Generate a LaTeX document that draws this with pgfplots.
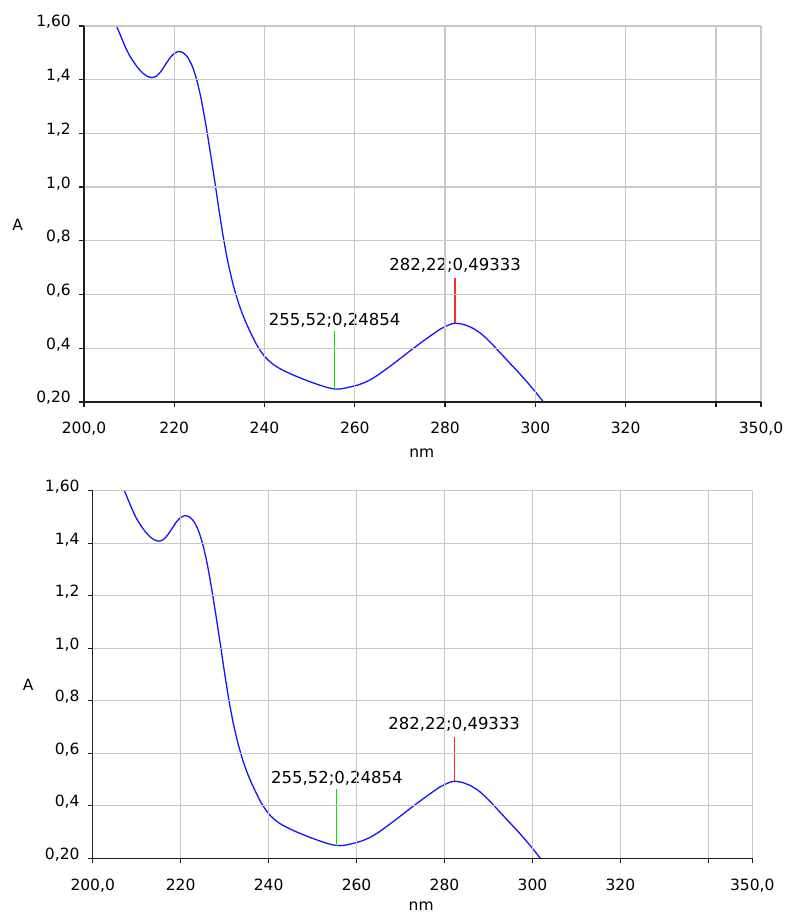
\documentclass[border=0pt]{standalone}
\usepackage{pgfplots}
\usepackage{pgfplotstable}
\pgfplotsset{compat=1.18}
\usepackage{fontspec}
\setmainfont{DejaVu Sans}

\pgfplotstableread{
x y
207.2 1.600
208.0 1.568
209.0 1.528
210.0 1.493
211.0 1.466
212.0 1.443
213.0 1.425
214.0 1.413
215.0 1.408
216.0 1.413
217.0 1.430
218.0 1.455
219.0 1.480
220.0 1.498
221.0 1.505
222.0 1.500
223.0 1.483
224.0 1.450
225.0 1.398
226.0 1.325
227.0 1.232
228.0 1.128
229.0 1.018
230.0 0.905
231.0 0.800
232.0 0.712
233.0 0.640
234.0 0.581
235.0 0.532
236.0 0.491
237.0 0.455
238.0 0.421
239.0 0.393
240.0 0.370
241.0 0.353
242.0 0.339
243.0 0.328
244.0 0.319
246.0 0.303
248.0 0.289
250.0 0.276
252.0 0.264
254.0 0.2535
255.52 0.24854
257.0 0.249
259.0 0.256
261.0 0.265
263.0 0.279
265.0 0.299
267.0 0.323
269.0 0.348
271.0 0.374
273.0 0.400
275.0 0.425
277.0 0.449
279.0 0.472
281.0 0.488
282.22 0.49333
284.0 0.489
286.0 0.476
288.0 0.454
290.0 0.423
292.0 0.387
294.0 0.351
296.0 0.315
298.0 0.278
300.0 0.238
301.0 0.217
301.8 0.200
}\spectrum

\pgfplotstableread{
x y
255.52 0.24854
255.52 0.463
}\greenmark

\pgfplotstableread{
x y
282.22 0.49333
282.22 0.663
}\redmark

\definecolor{gridgray}{RGB}{200,200,200}
\definecolor{axisgray}{RGB}{30,30,30}
\definecolor{specblue}{RGB}{20,20,255}
\definecolor{markgreen}{RGB}{0,230,0}
\definecolor{markred}{RGB}{255,40,40}

\pgfplotsset{
  specaxis/.style={
    scale only axis,
    anchor=south west,
    xmin=200, xmax=350,
    ymin=0.2, ymax=1.6,
    axis lines*=left,
    axis on top,
    axis line style={-, draw=axisgray, line width=1.5bp},
    xtick={200,220,240,260,280,300,320,340,350},
    xticklabels={{200,0},220,240,260,280,300,320,,{350,0}},
    ytick={0.2,0.4,0.6,0.8,1.0,1.2,1.4,1.6},
    yticklabels={{0,20},{0,4},{0,6},{0,8},{1,0},{1,2},{1,4},{1,60}},
    grid=major,
    major grid style={draw=gridgray, line width=1.3bp},
    tick align=outside,
    major tick length=5bp,
    major tick style={draw=axisgray, line width=1.3bp},
    ticklabel style={font=\fontsize{15.5bp}{18bp}\selectfont, text=black},
    xticklabel style={anchor=base, inner sep=0pt, yshift=-27bp},
    yticklabel style={anchor=base east, inner sep=0pt, xshift=-8bp, yshift=-1bp},
    label style={font=\fontsize{15.5bp}{18bp}\selectfont},
    xlabel={nm},
    ylabel={A},
    ylabel style={rotate=-90, anchor=center},
    clip mode=individual,
  }
}

\newcommand{\drawspectrum}{%
  \addplot[specblue, line width=1.3bp, smooth, tension=0.4] table[x=x,y=y] {\spectrum};
  \addplot[markgreen, line width=1.3bp] table[x=x,y=y] {\greenmark};
  \addplot[markred, line width=1.3bp] table[x=x,y=y] {\redmark};
  \node[font=\fontsize{16.5bp}{18bp}\selectfont, inner sep=0pt] at (axis cs:255.52,0.505) {255,52;0,24854};
  \node[font=\fontsize{16.5bp}{18bp}\selectfont, inner sep=0pt] at (axis cs:282.22,0.709) {282,22;0,49333};
}

\begin{document}
\begin{tikzpicture}
\path[use as bounding box] (0,0) rectangle (786bp,915bp);
\begin{axis}[specaxis,
  at={(84bp,513bp)}, width=677bp, height=376bp,
  xlabel style={at={(axis description cs:0.499,-0.135)}, anchor=center},
  ylabel style={at={(axis description cs:-0.098,0.471)}},
]
\drawspectrum
\end{axis}
\begin{axis}[specaxis,
  at={(92.7bp,56.7bp)}, width=659.6bp, height=367.6bp,
  xlabel style={at={(axis description cs:0.498,-0.13)}, anchor=center},
  ylabel style={at={(axis description cs:-0.098,0.471)}},
]
\drawspectrum
\end{axis}
\end{tikzpicture}
\end{document}
